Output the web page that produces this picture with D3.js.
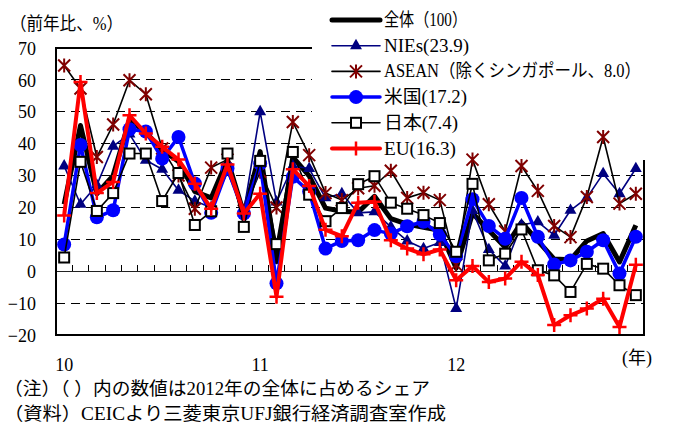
<!DOCTYPE html>
<html><head><meta charset="utf-8">
<script src="https://cdn.jsdelivr.net/npm/d3@7"></script>
<style>
html,body{margin:0;padding:0;background:#fff;}
svg{display:block;}
text{font-family:"Liberation Serif","Noto Sans CJK JP",serif;fill:#000;}
</style></head><body>
<svg id="chart" width="673" height="429"></svg>
<script>
// Monthly categories, Jan 2010 - Dec 2012
const months = [
  "2010-01","2010-02","2010-03","2010-04","2010-05","2010-06","2010-07","2010-08","2010-09","2010-10","2010-11","2010-12",
  "2011-01","2011-02","2011-03","2011-04","2011-05","2011-06","2011-07","2011-08","2011-09","2011-10","2011-11","2011-12",
  "2012-01","2012-02","2012-03","2012-04","2012-05","2012-06","2012-07","2012-08","2012-09","2012-10","2012-11","2012-12"
];
const yearLabels = [{month:"2010-01", text:"10"},{month:"2011-01", text:"11"},{month:"2012-01", text:"12"}];
const yTicks = [-20,-10,0,10,20,30,40,50,60,70];

// Year-on-year growth (%) by destination
const total = [21.0,45.7,24.3,30.0,47.5,43.5,38.0,34.4,25.0,23.0,35.0,18.0,
               37.5,3.0,35.8,29.9,19.8,18.8,18.5,23.5,16.5,14.8,13.8,12.8,
               1.0,18.2,12.8,7.5,15.3,9.5,3.8,3.6,9.5,11.8,2.9,14.4];
const nies = [33.0,21.0,27.0,39.2,43.0,34.8,32.0,25.4,22.0,20.0,31.0,19.0,
              50.0,21.7,33.0,32.2,23.0,24.3,18.3,18.6,13.9,9.5,7.1,9.0,
              -11.7,19.0,6.8,1.6,14.5,15.5,11.3,19.1,23.0,30.6,24.3,32.2];
const asean = [64.5,57.3,35.8,46.0,59.9,55.5,38.5,30.0,19.6,32.5,35.0,19.0,
               31.2,20.0,46.8,36.4,24.5,22.3,26.0,26.8,31.5,23.0,24.6,22.3,
               2.0,35.0,21.0,12.5,33.0,25.2,14.2,10.7,23.3,42.1,21.2,24.3];
const us = [8.4,39.6,16.9,19.1,44.5,43.8,35.3,42.1,27.5,18.3,32.2,18.1,
            33.8,-3.8,29.6,25.0,7.1,9.5,9.7,12.9,11.8,14.1,15.5,11.5,
            4.7,22.6,14.2,10.2,23.0,10.8,2.1,3.4,6.1,9.7,-0.7,10.8];
const japan = [4.3,34.3,18.9,24.5,36.9,36.9,22.0,30.8,14.5,18.8,36.9,13.9,
               34.6,8.5,37.4,24.0,15.7,19.8,27.3,29.8,21.5,19.6,17.6,15.1,
               6.1,27.4,3.4,5.5,13.1,0.3,-1.3,-6.5,2.3,0.8,-4.4,-7.5];
const eu = [17.5,59.3,24.5,28.0,48.9,43.2,39.0,35.0,27.4,19.6,33.5,18.1,
            24.3,-8.0,32.0,26.7,13.0,11.0,21.5,21.8,9.7,7.1,5.3,6.8,
            -2.8,1.6,-3.4,-2.3,3.0,-1.2,-16.9,-13.8,-11.7,-8.6,-17.5,2.0];

const seriesNames = ["全体（100）","NIEs(23.9)","ASEAN（除くシンガポール、8.0）","米国(17.2)","日本(7.4)","EU(16.3)"];

const series = [
  {name:seriesNames[0], values:total, color:"#000000", width:5,   marker:null,       tw:83},
  {name:seriesNames[1], values:nies,  color:"#000080", width:1.6, marker:"triangle", mcolor:"#000080", tw:85},
  {name:seriesNames[2], values:asean, color:"#000000", width:1.6, marker:"star",     mcolor:"#800000", tw:257},
  {name:seriesNames[3], values:us,    color:"#0000FF", width:3.5, marker:"circle",   mcolor:"#0000FF", tw:83},
  {name:seriesNames[4], values:japan, color:"#000000", width:1.6, marker:"square",   mcolor:"#000000", tw:74},
  {name:seriesNames[5], values:eu,    color:"#FF0000", width:4,   marker:"plus",     mcolor:"#FF0000", tw:72}
];

const svg = d3.select("#chart");
svg.append("rect").attr("width",673).attr("height",429).attr("fill","#fff");

const x = d3.scaleBand().domain(months).range([56,644]);
const y = d3.scaleLinear().domain([-20,70]).range([335,48]);
const px = m => x(m) + x.bandwidth()/2;

// gridlines
const grid = svg.append("g");
grid.selectAll("line").data(yTicks.filter(v => v!==-20 && v!==70 && v!==0)).enter().append("line")
  .attr("x1",56).attr("x2",644).attr("y1",d=>y(d)).attr("y2",d=>y(d))
  .attr("stroke","#000").attr("stroke-width",1).attr("stroke-dasharray","9,6")
  .attr("shape-rendering","crispEdges");
grid.append("line").attr("x1",56).attr("x2",644).attr("y1",y(0)).attr("y2",y(0))
  .attr("stroke","#222").attr("stroke-width",1).attr("shape-rendering","crispEdges");

// month ticks on the zero line
grid.selectAll("line.mt").data(months.slice(1)).enter().append("line").attr("class","mt")
  .attr("x1",d=>x(d)).attr("x2",d=>x(d)).attr("y1",y(0)).attr("y2",y(0)-6)
  .attr("stroke","#000").attr("stroke-width",1).attr("shape-rendering","crispEdges");

// frame
svg.append("rect").attr("x",56).attr("y",48).attr("width",588).attr("height",287)
  .attr("fill","none").attr("stroke","#000").attr("stroke-width",2);

// legend background
svg.append("rect").attr("x",312).attr("y",0).attr("width",361).attr("height",160).attr("fill","#fff");

// y axis labels
const yAxis = svg.append("g").attr("transform","translate(56,0)")
  .call(d3.axisLeft(y).tickValues(yTicks).tickSize(0).tickPadding(20));
yAxis.select(".domain").remove();
yAxis.selectAll("text").attr("font-size",18).attr("font-family","Liberation Serif").attr("dy","0.34em");

// x axis year labels
svg.append("g").selectAll("text").data(yearLabels).enter().append("text")
  .attr("x",d=>px(d.month)).attr("y",371).attr("text-anchor","middle")
  .attr("font-size",18).text(d=>d.text);
svg.append("text").attr("x",622).attr("y",364).attr("font-size",18).text("(年)");

// axis title
svg.append("text").attr("x",10).attr("y",30).attr("font-size",18)
  .attr("textLength",113).attr("lengthAdjust","spacingAndGlyphs").text("（前年比、%）");

// marker drawing
function drawMarker(g, type, color){
  if(type==="triangle"){
    g.append("path").attr("d",d3.symbol(d3.symbolTriangle,62)()).attr("fill",color);
  } else if(type==="circle"){
    g.append("circle").attr("r",7).attr("fill",color);
  } else if(type==="square"){
    g.append("rect").attr("x",-5).attr("y",-5).attr("width",10).attr("height",10)
      .attr("fill","#fff").attr("stroke",color).attr("stroke-width",2);
  } else if(type==="plus"){
    g.append("path").attr("d","M-7,0H7M0,-7V7").attr("stroke",color).attr("stroke-width",2.5).attr("fill","none");
  } else if(type==="star"){
    g.append("path").attr("d","M-6,-6L6,6M-6,6L6,-6M0,-7V7").attr("stroke",color).attr("stroke-width",2).attr("fill","none");
  }
}

const line = d3.line().x((d,i)=>px(months[i])).y(d=>y(d));
series.forEach(s => {
  const g = svg.append("g");
  g.append("path").attr("d",line(s.values)).attr("fill","none")
    .attr("stroke",s.color).attr("stroke-width",s.width).attr("stroke-linejoin","round");
  if(s.marker){
    s.values.forEach((v,i) => {
      const mg = g.append("g").attr("transform",`translate(${px(months[i])},${y(v)})`);
      drawMarker(mg, s.marker, s.mcolor);
    });
  }
});

// legend
const legend = svg.append("g");
series.forEach((s,i) => {
  const ly = 20 + i*25.7;
  const lg = legend.append("g").attr("transform",`translate(0,${ly})`);
  lg.append("line").attr("x1",332).attr("x2",380).attr("y1",0).attr("y2",0)
    .attr("stroke",s.color).attr("stroke-width",s.width).attr("stroke-linecap","round");
  if(s.marker){
    const mg = lg.append("g").attr("transform","translate(356,0)");
    drawMarker(mg, s.marker, s.mcolor);
  }
  lg.append("text").attr("x",384).attr("y",6).attr("font-size",18)
    .attr("textLength",s.tw).attr("lengthAdjust","spacingAndGlyphs").text(s.name);
});

// notes
svg.append("text").attr("x",4).attr("y",395).attr("font-size",18)
  .attr("textLength",426).attr("lengthAdjust","spacingAndGlyphs")
  .text("（注）（ ）内の数値は2012年の全体に占めるシェア");
svg.append("text").attr("x",4).attr("y",420).attr("font-size",18)
  .attr("textLength",442).attr("lengthAdjust","spacingAndGlyphs")
  .text("（資料）CEICより三菱東京UFJ銀行経済調査室作成");
</script>
</body></html>
